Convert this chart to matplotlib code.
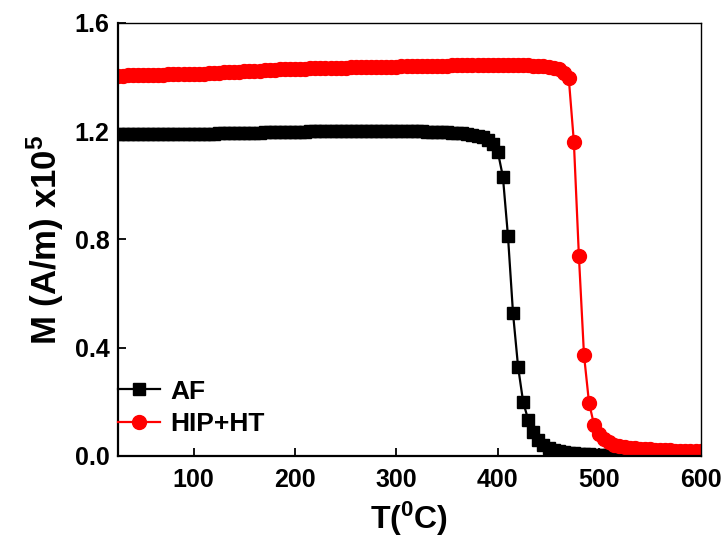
import matplotlib
matplotlib.use("Agg")
import matplotlib.pyplot as plt

# temperature grid (deg C), one reading every 5 degrees
temp = [
    25, 30, 35, 40, 45, 50, 55, 60, 65, 70, 75, 80, 85, 90, 95,
    100, 105, 110, 115, 120, 125, 130, 135, 140, 145, 150, 155, 160, 165, 170, 175, 180, 185, 190, 195,
    200, 205, 210, 215, 220, 225, 230, 235, 240, 245, 250, 255, 260, 265, 270, 275, 280, 285, 290, 295,
    300, 305, 310, 315, 320, 325, 330, 335, 340, 345, 350, 355, 360, 365, 370, 375, 380, 385, 390, 395,
    400, 405, 410, 415, 420, 425, 430, 435, 440, 445, 450, 455, 460, 465, 470, 475, 480, 485, 490, 495,
    500, 505, 510, 515, 520, 525, 530, 535, 540, 545, 550, 555, 560, 565, 570, 575, 580, 585, 590, 595,
    600,
]

# magnetisation, x1e5 A/m
m_af = [
    1.188, 1.188, 1.188, 1.189, 1.189, 1.189, 1.189, 1.189, 1.190, 1.190, 1.190, 1.190, 1.190, 1.190, 1.190,
    1.191, 1.191, 1.191, 1.191, 1.191, 1.192, 1.192, 1.192, 1.193, 1.193, 1.194, 1.194, 1.195, 1.195, 1.196,
    1.196, 1.197, 1.197, 1.197, 1.198,
    1.198, 1.198, 1.198, 1.199, 1.199, 1.199, 1.199, 1.199, 1.199, 1.200, 1.200, 1.200, 1.200, 1.200, 1.200,
    1.200, 1.200, 1.200, 1.200, 1.200,
    1.200, 1.200, 1.200, 1.199, 1.199, 1.199, 1.198, 1.198, 1.197, 1.197, 1.196, 1.195, 1.194, 1.192, 1.190,
    1.187, 1.183, 1.177, 1.168, 1.153,
    1.124, 1.032, 0.813, 0.527, 0.329, 0.199, 0.133, 0.090, 0.060, 0.042, 0.031, 0.023, 0.018, 0.014, 0.011,
    0.009, 0.008, 0.007, 0.006, 0.005,
    0.005, 0.004, 0.004, 0.004, 0.003, 0.003, 0.003, 0.003, 0.003, 0.003, 0.002, 0.002, 0.002, 0.002, 0.002,
    0.002, 0.002, 0.002, 0.002, 0.002,
    0.002,
]

m_hip = [
    1.405, 1.405, 1.406, 1.406, 1.407, 1.407, 1.408, 1.408, 1.409, 1.409, 1.410, 1.410, 1.411, 1.411, 1.412,
    1.412, 1.413, 1.413, 1.414, 1.415, 1.416, 1.417, 1.418, 1.419, 1.420, 1.421, 1.422, 1.423, 1.424, 1.425,
    1.426, 1.427, 1.428, 1.429, 1.429,
    1.430, 1.431, 1.431, 1.432, 1.432, 1.433, 1.433, 1.434, 1.434, 1.435, 1.435, 1.436, 1.436, 1.437, 1.437,
    1.438, 1.438, 1.438, 1.439, 1.439,
    1.439, 1.440, 1.440, 1.440, 1.441, 1.441, 1.441, 1.442, 1.442, 1.442, 1.442, 1.443, 1.443, 1.443, 1.443,
    1.444, 1.444, 1.444, 1.444, 1.444,
    1.444, 1.444, 1.444, 1.444, 1.444, 1.443, 1.443, 1.442, 1.441, 1.440, 1.438, 1.435, 1.429, 1.414, 1.395,
    1.161, 0.737, 0.373, 0.195, 0.114,
    0.080, 0.062, 0.050, 0.042, 0.037, 0.033, 0.030, 0.028, 0.026, 0.025, 0.024, 0.023, 0.022, 0.021, 0.020,
    0.019, 0.019, 0.018, 0.018, 0.017,
    0.017,
]

plt.rcParams["font.family"] = ["Liberation Sans", "DejaVu Sans"]
plt.rcParams["font.weight"] = "bold"
plt.rcParams["mathtext.fontset"] = "custom"
plt.rcParams["mathtext.rm"] = "Liberation Sans:bold"
plt.rcParams["mathtext.bf"] = "Liberation Sans:bold"
plt.rcParams["mathtext.it"] = "Liberation Sans:bold"

fig = plt.figure(figsize=(7.26, 5.46), dpi=100)
ax = fig.add_axes([0.162, 0.165, 0.803, 0.793])

ax.plot(temp, m_af, color="black", marker="s", markersize=8.5, linewidth=1.6, label="AF")
ax.plot(temp, m_hip, color="red", marker="o", markersize=10, linewidth=1.6, label="HIP+HT")

ax.set_xlim(25, 600)
ax.set_ylim(0, 1.6)
ax.set_xticks([100, 200, 300, 400, 500, 600])
ax.set_yticks([0.0, 0.4, 0.8, 1.2, 1.6])
ax.set_yticklabels(["0.0", "0.4", "0.8", "1.2", "1.6"])
ax.tick_params(direction="in", length=6, width=1.3, labelsize=18)
ax.tick_params(axis="x", pad=9)
ax.tick_params(axis="y", pad=6)

for side in ("left", "bottom"):
    ax.spines[side].set_linewidth(1.6)
for side in ("top", "right"):
    ax.spines[side].set_linewidth(1.0)

ax.set_xlabel("T($^0$C)", fontsize=23, fontweight="bold", labelpad=5)
ax.set_ylabel("M (A/m) x10$^5$", fontsize=25, fontweight="bold", labelpad=6)

leg = ax.legend(loc="lower left", frameon=False, fontsize=19, handlelength=1.6,
                handletextpad=0.4, borderaxespad=0.0, borderpad=0.0,
                bbox_to_anchor=(0.0, 0.045), labelspacing=0.33)
for t in leg.get_texts():
    t.set_fontweight("bold")

fig.savefig("out.png", dpi=100)
